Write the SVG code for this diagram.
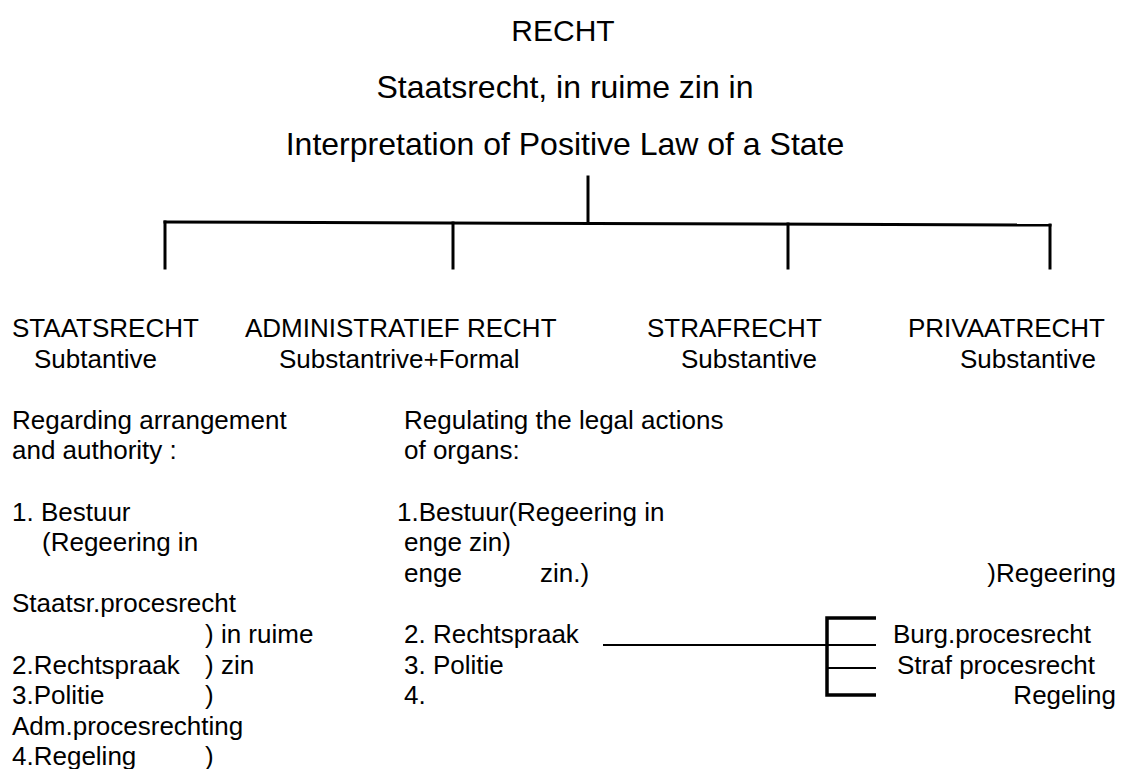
<svg xmlns="http://www.w3.org/2000/svg" width="1121" height="769" viewBox="0 0 1121 769">
  <style>
    text { font-family: "Liberation Sans", Arial, sans-serif; fill: #000; }
    .title { font-size: 32px; text-anchor: middle; }
    .body { font-size: 26px; }
    .end { text-anchor: end; }
    .ln { stroke: #000; stroke-width: 3; fill: none; stroke-linecap: square; }
    .thick { stroke: #000; stroke-width: 3.5; fill: none; }
    .thin { stroke: #000; stroke-width: 2.2; fill: none; }
  </style>
  <rect width="1121" height="769" fill="#fff"/>

  <!-- headings -->
  <g id="title">
    <text class="title" x="563" y="41" style="font-size:30px">RECHT</text>
    <text class="title" x="565" y="98">Staatsrecht, in ruime zin in</text>
    <text class="title" x="565" y="155">Interpretation of Positive Law of a State</text>
  </g>

  <!-- tree and bracket lines -->
  <g id="connectors">
    <line class="ln" x1="588" y1="177" x2="588" y2="223"/>
    <line class="ln" x1="165" y1="222" x2="1050" y2="225"/>
    <line class="ln" x1="165" y1="222" x2="165" y2="268"/>
    <line class="ln" x1="453" y1="223" x2="453" y2="268"/>
    <line class="ln" x1="788" y1="224" x2="788" y2="268"/>
    <line class="ln" x1="1050" y1="225" x2="1050" y2="268"/>
    <!-- Rechtspraak bracket -->
    <line class="thin" x1="603" y1="645" x2="827" y2="645"/>
    <path class="thick" d="M876 618 H827 V695 H876"/>
    <line class="thin" x1="827" y1="645" x2="876" y2="645"/>
    <line class="thin" x1="827" y1="668" x2="876" y2="668"/>
  </g>

  <g id="staatsrecht">
    <text class="body" x="12" y="337">STAATSRECHT</text>
    <text class="body" x="34" y="368">Subtantive</text>
    <text class="body" x="12" y="429">Regarding arrangement</text>
    <text class="body" x="12" y="459">and authority :</text>
    <text class="body" x="12" y="521">1. Bestuur</text>
    <text class="body" x="42" y="551">(Regeering in</text>
    <text class="body" x="12" y="612">Staatsr.procesrecht</text>
    <text class="body" x="205" y="643">) in ruime</text>
    <text class="body" x="12" y="674">2.Rechtspraak</text>
    <text class="body" x="205" y="674">) zin</text>
    <text class="body" x="12" y="704">3.Politie</text>
    <text class="body" x="205" y="704">)</text>
    <text class="body" x="12" y="735">Adm.procesrechting</text>
    <text class="body" x="12" y="765">4.Regeling</text>
    <text class="body" x="205" y="765">)</text>
  </g>

  <g id="administratief">
    <text class="body" x="245" y="337">ADMINISTRATIEF RECHT</text>
    <text class="body" x="279" y="368">Substantrive+Formal</text>
    <text class="body" x="404" y="429">Regulating the legal actions</text>
    <text class="body" x="404" y="459">of organs:</text>
    <text class="body" x="397" y="521">1.Bestuur(Regeering in</text>
    <text class="body" x="404" y="551">enge zin)</text>
    <text class="body" x="404" y="582">enge</text>
    <text class="body" x="540" y="582">zin.)</text>
    <text class="body" x="404" y="643">2. Rechtspraak</text>
    <text class="body" x="404" y="674">3. Politie</text>
    <text class="body" x="404" y="704">4.</text>
  </g>

  <g id="strafrecht">
    <text class="body" x="647" y="337">STRAFRECHT</text>
    <text class="body" x="681" y="368">Substantive</text>
  </g>

  <g id="privaatrecht">
    <text class="body" x="908" y="337">PRIVAATRECHT</text>
    <text class="body" x="960" y="368">Substantive</text>
    <text class="body end" x="1116" y="582">)Regeering</text>
    <text class="body" x="893" y="643">Burg.procesrecht</text>
    <text class="body" x="897" y="674">Straf procesrecht</text>
    <text class="body end" x="1116" y="704">Regeling</text>
  </g>
</svg>
